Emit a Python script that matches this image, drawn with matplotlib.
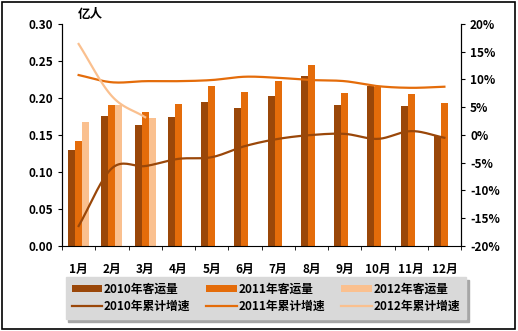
import numpy as np
import matplotlib.pyplot as plt
from matplotlib.patches import Rectangle

plt.rcParams['font.family'] = ['Noto Sans CJK SC', 'DejaVu Sans']

months = ['1月', '2月', '3月', '4月', '5月', '6月', '7月', '8月', '9月', '10月', '11月', '12月']

# passenger volume (亿人)
vol_2010 = [0.130, 0.176, 0.164, 0.174, 0.195, 0.186, 0.203, 0.230, 0.190, 0.216, 0.189, 0.149]
vol_2011 = [0.142, 0.190, 0.181, 0.192, 0.216, 0.208, 0.223, 0.245, 0.207, 0.215, 0.205, 0.193]
vol_2012 = [0.168, 0.190, 0.173]

# cumulative growth (%)
gr_2010 = [-16.4, -6.0, -5.6, -4.3, -4.0, -2.0, -0.7, 0.0, 0.2, -0.7, 0.7, -0.5]
gr_2011 = [10.8, 9.5, 9.7, 9.7, 9.9, 10.5, 10.3, 9.9, 9.7, 8.8, 8.5, 8.7]
gr_2012 = [16.4, 7.0, 3.2]

c10 = '#9a4709'
c11 = '#e46c0a'
c12 = '#fac08f'


def smooth(y, n=20):
    # catmull-rom, only for drawing the curves like excel's smoothed lines
    y = np.asarray(y, float)
    x = np.arange(len(y), dtype=float)
    p = np.concatenate([[2*y[0]-y[1]], y, [2*y[-1]-y[-2]]])
    xs, ys = [], []
    for i in range(len(y) - 1):
        t = np.linspace(0, 1, n, endpoint=False)
        p0, p1, p2, p3 = p[i], p[i+1], p[i+2], p[i+3]
        yy = 0.5*((2*p1) + (-p0+p2)*t + (2*p0-5*p1+4*p2-p3)*t**2 + (-p0+3*p1-3*p2+p3)*t**3)
        xs.append(x[i] + t)
        ys.append(yy)
    xs.append([x[-1]])
    ys.append([y[-1]])
    return np.concatenate(xs), np.concatenate(ys)


fig = plt.figure(figsize=(5.18, 3.31), dpi=100)
ax = fig.add_axes([0.1197, 0.2568, 0.7703, 0.6707])
ax2 = ax.twinx()

x = np.arange(len(months))
w = 0.21
ax.bar(x - w, vol_2010, w, color=c10, label='2010年客运量')
ax.bar(x, vol_2011, w, color=c11, label='2011年客运量')
ax.bar(x[:len(vol_2012)] + w, vol_2012, w, color=c12, label='2012年客运量')

for g, c, lab in [(gr_2010, c10, '2010年累计增速'), (gr_2011, c11, '2011年累计增速'),
                  (gr_2012, c12, '2012年累计增速')]:
    sx, sy = smooth(g)
    ax2.plot(sx, sy, color=c, lw=1.6, label=lab)

ax.set_xlim(-0.5, 11.5)
ax.set_ylim(0, 0.30)
ax2.set_ylim(-20, 20)
ax.set_yticks(np.arange(0, 0.31, 0.05))
ax.set_yticklabels(['%.2f' % v for v in np.arange(0, 0.31, 0.05)])
ax2.set_yticks(np.arange(-20, 21, 5))
ax2.set_yticklabels(['%d%%' % v for v in np.arange(-20, 21, 5)])
ax.set_xticks(x)
ax.set_xticklabels(months)
ax.set_xticks(np.arange(-0.5, 12, 1), minor=True)
ax.tick_params(axis='x', which='major', length=0, pad=12)
ax.tick_params(axis='x', which='minor', length=3, direction='out')
ax.tick_params(axis='y', length=3, direction='out')
ax2.tick_params(axis='y', length=3, direction='out')

for a in (ax, ax2):
    a.spines['top'].set_visible(False)
    for lbl in a.get_xticklabels() + a.get_yticklabels():
        lbl.set_fontsize(8.5)
        lbl.set_fontweight('bold')
ax2.spines['bottom'].set_visible(False)

fig.text(0.151, 0.955, '亿人', fontsize=9, fontweight='bold', ha='left', va='center')

# legend box with shadow
h1, l1 = ax.get_legend_handles_labels()
h2, l2 = ax2.get_legend_handles_labels()
handles = [h1[0], h2[0], h1[1], h2[1], h1[2], h2[2]]
labels = [l1[0], l2[0], l1[1], l2[1], l1[2], l2[2]]
leg = fig.legend(handles, labels, ncol=3, loc='center', bbox_to_anchor=(0.513, 0.0995),
                 frameon=True, fancybox=False,
                 shadow={'color': '#a6a6a6', 'alpha': 1.0, 'ox': 2, 'oy': -2},
                 prop={'weight': 'bold', 'size': 8.5},
                 handlelength=2.6, handleheight=0.5, columnspacing=1.4,
                 labelspacing=0.35, borderpad=0.5, handletextpad=0.1)
leg.get_frame().set_facecolor('#d9d9d9')
leg.get_frame().set_edgecolor('#d9d9d9')

fig.patches.append(Rectangle((0.004, 0.006), 0.99, 0.988, transform=fig.transFigure,
                             fill=False, edgecolor='black', lw=1.2))

fig.savefig('out.png', dpi=100)
